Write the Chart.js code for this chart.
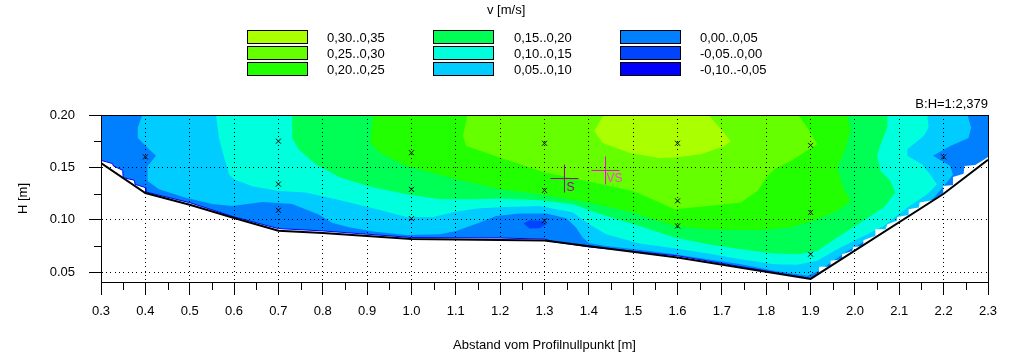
<!DOCTYPE html>
<html lang="en">
<head>
<meta charset="UTF-8">
<title>Geschwindigkeitsverteilung</title>
<script src="https://cdn.jsdelivr.net/npm/chart.js"></script>
<style>
  html, body { margin: 0; padding: 0; background: #fff; }
  body { width: 1015px; height: 359px; position: relative; overflow: hidden;
         font: 13px "Liberation Sans", Arial, sans-serif; color: #000; }
  canvas { position: absolute; left: 0; top: 0; }
  .txt { position: absolute; white-space: nowrap; line-height: 14px; }
  .swatch { position: absolute; width: 59px; height: 12px; border: 1px solid #000; }
</style>
</head>
<body>
<canvas id="profile" width="1015" height="359"></canvas>
<div class="txt" style="left:487px;top:3px">v [m/s]</div>
<div class="txt" style="right:27px;top:97px">B:H=1:2,379</div>
<div id="legend"></div>

<script>
  // legend classes, written column by column as in the picture
  const classLabels = ['0,30..0,35', '0,25..0,30', '0,20..0,25',
                       '0,15..0,20', '0,10..0,15', '0,05..0,10',
                       '0,00..0,05', '-0,05..0,00', '-0,10..-0,05'];
  const classColors = ['#aaff00', '#66ff00', '#22ff00',
                       '#00ff55', '#00ffdd', '#00ccff',
                       '#0080ff', '#0044ff', '#0000ff'];

  const xTicks = { min: 0.3, max: 2.3, step: 0.1 };
  const yTicks = { min: 0.0405, max: 0.2, step: 0.05 };
  const xMinor = [0.35, 0.45, 0.55, 0.65, 0.75, 0.85, 0.95, 1.05, 1.15, 1.25, 1.35, 1.45, 1.55, 1.65, 1.75, 1.85, 1.95, 2.05, 2.15, 2.25];
  const yMinor = [0.075, 0.125, 0.175];

  // measuring points [distance, height]
  const measured = [[0.4, 0.16], [0.7, 0.175], [0.7, 0.134], [0.7, 0.109], [1.0, 0.164], [1.0, 0.129], [1.0, 0.101],
                    [1.3, 0.173], [1.3, 0.128], [1.3, 0.099], [1.6, 0.173], [1.6, 0.118], [1.6, 0.094],
                    [1.9, 0.171], [1.9, 0.107], [1.9, 0.067], [2.2, 0.16]];

  // channel bed
  const bed = [[0.3, 0.1542], [0.4, 0.1255], [0.5, 0.1143], [0.6, 0.1016], [0.7, 0.0895], [0.8, 0.0873], [1.0, 0.0816],
               [1.3, 0.0802], [1.6, 0.064], [1.9, 0.0434], [2.2, 0.1248], [2.3, 0.1573]];

  // lower edge of the coloured field, the stairs come from the interpolation grid
  const fieldEdgeLeft = [[0.3, 0.1567], [0.326, 0.1536], [0.328, 0.1513], [0.349, 0.1472], [0.35, 0.1402], [0.375, 0.1377], [0.377, 0.1338],
                         [0.4, 0.1307], [0.401, 0.1265], [0.5, 0.1163], [0.6, 0.1027], [0.7, 0.0915], [0.8, 0.0893], [1.0, 0.083],
                         [1.2, 0.0825], [1.3, 0.0815], [1.32, 0.079], [1.4, 0.074], [1.6, 0.0655], [1.9, 0.0438]];
  const fieldEdgeRight = [[1.919, 0.0496], [1.919, 0.055], [1.945, 0.055], [1.945, 0.0607], [1.971, 0.0623], [1.971, 0.067],
                          [1.994, 0.0702], [1.996, 0.074], [2.019, 0.075], [2.019, 0.0804], [2.046, 0.0846], [2.046, 0.0909],
                          [2.069, 0.0909], [2.073, 0.0957], [2.095, 0.0989], [2.095, 0.1027], [2.121, 0.1046], [2.121, 0.11],
                          [2.144, 0.1116], [2.146, 0.1164], [2.174, 0.1186], [2.199, 0.1256], [2.199, 0.1322], [2.221, 0.1332],
                          [2.221, 0.1408], [2.245, 0.144], [2.247, 0.1513], [2.271, 0.1523], [2.296, 0.1586], [2.3, 0.16]];
  const belowField = [[2.3, 0.03], [0.3, 0.03]];

  // isotachs: area above each class limit
  const above005 = [[0.394, 0.201], [0.383, 0.188], [0.383, 0.178], [0.409, 0.167], [0.424, 0.161], [0.405, 0.151], [0.405, 0.137],
                    [0.431, 0.129], [0.491, 0.121], [0.551, 0.115], [0.596, 0.113], [0.664, 0.117], [0.731, 0.115], [0.791, 0.105],
                    [0.821, 0.097], [0.861, 0.0925], [0.914, 0.0887], [0.989, 0.0855], [1.064, 0.086], [1.101, 0.0893], [1.154, 0.0973],
                    [1.191, 0.1036], [1.244, 0.106], [1.304, 0.106], [1.349, 0.1014], [1.371, 0.0925], [1.386, 0.083], [1.401, 0.0776],
                    [1.439, 0.075], [1.514, 0.0712], [1.593, 0.067], [1.668, 0.0623], [1.743, 0.0575], [1.818, 0.0512], [1.893, 0.0464],
                    [1.919, 0.0512], [1.983, 0.0702], [2.05, 0.0861], [2.118, 0.1036], [2.178, 0.121], [2.2, 0.132], [2.221, 0.143],
                    [2.215, 0.1513], [2.176, 0.161], [2.215, 0.1704], [2.256, 0.178], [2.262, 0.188], [2.253, 0.201]];
  const above010 = [[0.559, 0.201], [0.566, 0.178], [0.578, 0.159], [0.589, 0.143], [0.6, 0.1386], [0.641, 0.132], [0.701, 0.1275],
                    [0.761, 0.1259], [0.839, 0.1186], [0.9135, 0.111], [0.989, 0.1027], [1.049, 0.1027], [1.101, 0.1078], [1.154, 0.111],
                    [1.214, 0.1122], [1.289, 0.1132], [1.364, 0.1068], [1.401, 0.0957], [1.439, 0.0861], [1.514, 0.0772], [1.593, 0.0728],
                    [1.668, 0.0677], [1.743, 0.0623], [1.818, 0.0575], [1.87, 0.0569], [1.915, 0.0607], [1.96, 0.0718], [2.013, 0.083],
                    [2.065, 0.094], [2.118, 0.1116], [2.163, 0.1243], [2.185, 0.1338], [2.17, 0.143], [2.151, 0.1529], [2.118, 0.161],
                    [2.118, 0.1672], [2.155, 0.18], [2.166, 0.188], [2.163, 0.201]];
  const above015 = [[0.731, 0.201], [0.731, 0.178], [0.746, 0.167], [0.784, 0.153], [0.839, 0.1402], [0.9135, 0.1307], [0.989, 0.1243],
                    [1.064, 0.1195], [1.139, 0.1195], [1.199, 0.1202], [1.289, 0.1186], [1.364, 0.1148], [1.439, 0.1036], [1.514, 0.0941],
                    [1.593, 0.083], [1.668, 0.0766], [1.743, 0.0718], [1.818, 0.0677], [1.87, 0.067], [1.915, 0.0702], [1.96, 0.083],
                    [2.013, 0.0973], [2.065, 0.1116], [2.091, 0.1259], [2.08, 0.137], [2.058, 0.1466], [2.05, 0.161], [2.058, 0.172],
                    [2.073, 0.188], [2.073, 0.201]];
  const above020 = [[0.9135, 0.201], [0.9075, 0.1736], [0.9285, 0.164], [0.989, 0.1513], [1.101, 0.1386], [1.199, 0.129], [1.289, 0.1243],
                    [1.4, 0.1164], [1.499, 0.1068], [1.593, 0.094], [1.668, 0.0909], [1.78, 0.0899], [1.855, 0.0925], [1.915, 0.1005],
                    [1.96, 0.1084], [1.99, 0.1179], [1.975, 0.129], [1.96, 0.1497], [1.975, 0.164], [1.99, 0.1847], [1.983, 0.201]];
  const above025 = [[1.127, 0.201], [1.116, 0.18], [1.124, 0.1704], [1.199, 0.1593], [1.301, 0.145], [1.4, 0.1364], [1.499, 0.1275],
                    [1.551, 0.118], [1.593, 0.11], [1.668, 0.1132], [1.743, 0.1164], [1.78, 0.1275], [1.8, 0.1402], [1.818, 0.1481],
                    [1.855, 0.156], [1.915, 0.172], [1.893, 0.1879], [1.87, 0.201]];
  const above030 = [[1.435, 0.201], [1.412, 0.1847], [1.431, 0.1736], [1.491, 0.164], [1.558, 0.159], [1.593, 0.1593], [1.653, 0.1625],
                    [1.705, 0.1704], [1.72, 0.175], [1.698, 0.1863], [1.668, 0.201]];
  const belowMinus0 = [[1.253, 0.0963], [1.266, 0.0995], [1.296, 0.0989], [1.305, 0.0957], [1.289, 0.0919], [1.266, 0.0916]];
  const wholeField = [[0.3, 0.1995], [2.3, 0.1995], [2.3, 0.03], [0.3, 0.03]];

  const centerS = [[1.345, 0.1393]];
  const centerVS = [[1.4376, 0.147]];

  const toPoints = (pairs) => pairs.map(([x, y]) => ({ x, y }));

  // closed area, drawn in the order of the list (later ones on top)
  const area = (pairs, color) => ({
    data: toPoints(pairs), showLine: true, fill: 'shape', backgroundColor: color,
    borderWidth: 0, pointRadius: 0, tension: 0
  });
  const marker = (pairs, style, radius, color, width) => ({
    data: toPoints(pairs), showLine: false, pointStyle: style, pointRadius: radius,
    pointBorderColor: color, pointBackgroundColor: color, pointBorderWidth: width
  });
  const edge = (pairs, color, width) => ({
    data: toPoints(pairs), showLine: true, fill: false, borderColor: color, borderWidth: width, pointRadius: 0, tension: 0
  });

  const layers = [
    area(wholeField, classColors[6]),
    area(belowMinus0, classColors[7]),
    area(above005, classColors[5]),
    area(above010, classColors[4]),
    area(above015, classColors[3]),
    area(above020, classColors[2]),
    area(above025, classColors[1]),
    area(above030, classColors[0]),
    area(fieldEdgeLeft.concat(fieldEdgeRight, belowField), '#ffffff'),
    edge(fieldEdgeLeft, classColors[8], 1),
    edge(bed, '#000000', 2),
    marker(measured, 'crossRot', 3.5, '#000000', 1),
    marker(centerS, 'cross', 14, '#a00090', 1),
    marker(centerVS, 'cross', 14, '#ff00e0', 1)
  ];
  layers.forEach((d, i) => { d.order = layers.length - i; });

  // frame, short ticks and the two centre labels
  const profileExtras = {
    id: 'profileExtras',
    afterDraw(chart) {
      const { ctx, chartArea: a, scales: { x, y } } = chart;
      ctx.save();
      ctx.strokeStyle = '#000';
      ctx.lineWidth = 1;
      ctx.beginPath();
      ctx.moveTo(a.left, a.top + 0.5); ctx.lineTo(a.right + 0.5, a.top + 0.5);
      ctx.moveTo(a.right + 0.5, a.top); ctx.lineTo(a.right + 0.5, a.bottom);
      xMinor.forEach((v) => {
        const px = Math.round(x.getPixelForValue(v)) + 0.5;
        ctx.moveTo(px, a.bottom); ctx.lineTo(px, a.bottom + 8);
      });
      yMinor.forEach((v) => {
        const py = Math.round(y.getPixelForValue(v)) + 0.5;
        ctx.moveTo(a.left, py); ctx.lineTo(a.left - 7, py);
      });
      ctx.stroke();
      ctx.font = '12px "Liberation Sans", Arial, sans-serif';
      ctx.textBaseline = 'top';
      ctx.fillStyle = '#a00090';
      ctx.fillText('S', x.getPixelForValue(centerS[0][0]) + 2, y.getPixelForValue(centerS[0][1]) + 3);
      ctx.fillStyle = '#ff40d0';
      ctx.fillText('VS', x.getPixelForValue(centerVS[0][0]) + 1, y.getPixelForValue(centerVS[0][1]) + 2);
      ctx.restore();
    }
  };

  const axisFont = { family: '"Liberation Sans"', size: 13 };
  // whole pixels so the dots stay crisp, about 4.33 px apart
  const dotted = [1, 3, 1, 3, 1, 4];

  new Chart(document.getElementById('profile').getContext('2d'), {
    type: 'scatter',
    data: { datasets: layers },
    plugins: [profileExtras],
    options: {
      responsive: false,
      animation: false,
      events: [],
      layout: { padding: { top: 115, right: 27, left: 0, bottom: 0 } },
      plugins: { legend: { display: false }, tooltip: { enabled: false } },
      scales: {
        x: {
          type: 'linear', min: xTicks.min, max: xTicks.max,
          afterFit: (s) => { s.height = 77; },
          ticks: { stepSize: xTicks.step, color: '#000', font: axisFont, padding: 9, maxRotation: 0, autoSkip: false,
                   callback: (v) => v.toFixed(1) },
          grid: { z: 1, color: '#000', tickColor: '#000', tickLength: 13 },
          border: { z: 2, color: '#000', dash: dotted },
          title: { display: true, text: 'Abstand vom Profilnullpunkt [m]', color: '#000', font: axisFont, padding: { top: 0, bottom: 6 } }
        },
        y: {
          type: 'linear', min: yTicks.min, max: yTicks.max,
          afterFit: (s) => { s.width = 101; },
          ticks: { stepSize: yTicks.step, includeBounds: false, color: '#000', font: axisFont, padding: 14,
                   callback: (v) => v.toFixed(2) },
          grid: { z: 1, color: '#000', tickColor: '#000', tickLength: 12 },
          border: { z: 2, color: '#000', dash: dotted },
          title: { display: true, text: 'H [m]', color: '#000', font: axisFont, padding: { top: 16, bottom: 0 } }
        }
      }
    }
  });

  // legend is plain html
  const legend = document.getElementById('legend');
  const swatchLeft = [247, 433, 620];
  const labelLeft = [327, 514, 700];
  classLabels.forEach((label, i) => {
    const col = Math.floor(i / 3), row = i % 3;
    const top = 30 + row * 16;
    const sw = document.createElement('div');
    sw.className = 'swatch';
    sw.style.cssText = 'left:' + swatchLeft[col] + 'px;top:' + top + 'px;background:' + classColors[i];
    legend.appendChild(sw);
    const t = document.createElement('div');
    t.className = 'txt';
    t.style.cssText = 'left:' + labelLeft[col] + 'px;top:' + (top + 1) + 'px';
    t.textContent = label;
    legend.appendChild(t);
  });
</script>
</body>
</html>
